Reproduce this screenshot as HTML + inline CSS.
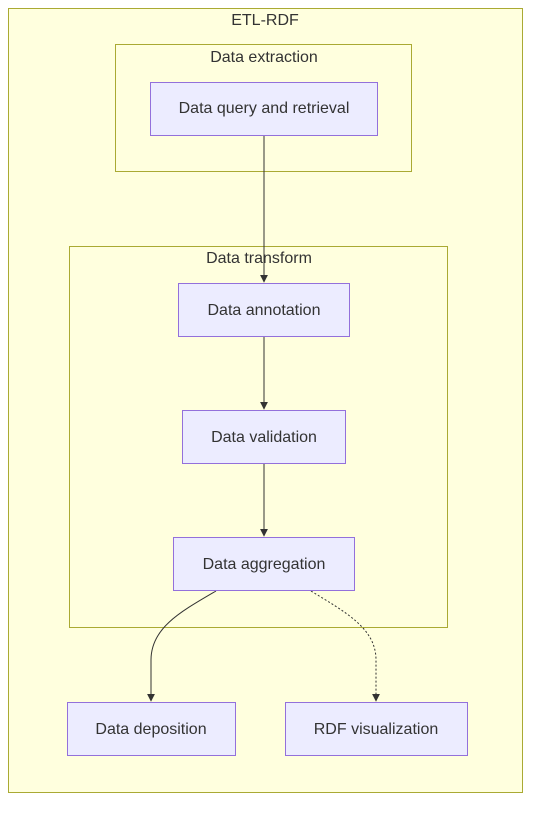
<!DOCTYPE html>
<html><head><meta charset="utf-8"><style>
html,body{margin:0;padding:0;background:#fff;}
svg text{font-family:"Liberation Sans",sans-serif;font-size:16px;fill:#333;}
</style></head><body>
<svg width="539" height="811" viewBox="0 0 539 811" xmlns="http://www.w3.org/2000/svg">
<defs><marker id="a" viewBox="0 0 10 10" refX="9" refY="5" markerWidth="8" markerHeight="8" orient="auto"><path d="M0,0L10,5L0,10z" fill="#333"/></marker></defs>
<rect x="8.5" y="8.5" width="514" height="784" fill="#ffffde" stroke="#aaaa33"/>
<text x="265" y="25" text-anchor="middle">ETL-RDF</text>
<rect x="115.5" y="44.5" width="296" height="127" fill="#ffffde" stroke="#aaaa33"/>
<text x="264" y="62" text-anchor="middle">Data extraction</text>
<rect x="69.5" y="246.5" width="378" height="381" fill="#ffffde" stroke="#aaaa33"/>
<text x="259" y="263" text-anchor="middle">Data transform</text>
<g fill="none" stroke="#333" stroke-width="1">
<path d="M264,135V282" marker-end="url(#a)"/>
<path d="M264,336V409" marker-end="url(#a)"/>
<path d="M264,463V536" marker-end="url(#a)"/>
<path d="M216,591C180,612 151,628 151,660V701" marker-end="url(#a)"/>
<path d="M311,591C345,612 376,628 376,660V701" stroke-dasharray="2,2" marker-end="url(#a)"/>
</g>
<g fill="#ececff" stroke="#9370db">
<rect x="150.5" y="82.5" width="227" height="53"/>
<rect x="178.5" y="283.5" width="171" height="53"/>
<rect x="182.5" y="410.5" width="163" height="53"/>
<rect x="173.5" y="537.5" width="181" height="53"/>
<rect x="67.5" y="702.5" width="168" height="53"/>
<rect x="285.5" y="702.5" width="182" height="53"/>
</g>
<text x="264" y="113" text-anchor="middle">Data query and retrieval</text>
<text x="264" y="315" text-anchor="middle">Data annotation</text>
<text x="264" y="442" text-anchor="middle">Data validation</text>
<text x="264" y="569" text-anchor="middle">Data aggregation</text>
<text x="151" y="734" text-anchor="middle">Data deposition</text>
<text x="376" y="734" text-anchor="middle">RDF visualization</text>
</svg>
</body></html>
